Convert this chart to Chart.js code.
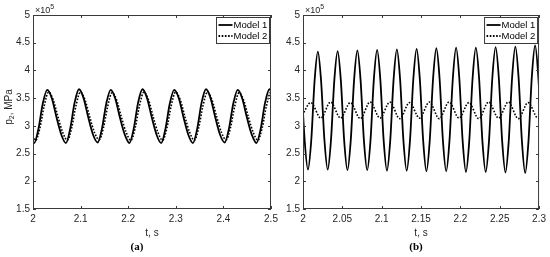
<!DOCTYPE html>
<html>
<head>
<meta charset="utf-8">
<script src="https://cdn.jsdelivr.net/npm/chart.js@4"></script>
<style>
  body { margin: 0; background: #fff; }
  canvas { position: absolute; left: 0; top: 0; }
</style>
</head>
<body>
<canvas id="chartA" width="550" height="257"></canvas>
<canvas id="chartB" width="550" height="257"></canvas>
<script>
// Eixos
var yTicks = [1.5, 2, 2.5, 3, 3.5, 4, 4.5, 5]
var xTicksA = [2, 2.1, 2.2, 2.3, 2.4, 2.5]
var xTicksB = [2, 2.05, 2.1, 2.15, 2.2, 2.25, 2.3]
var seriesNames = ['Model 1', 'Model 2']

// (a) p2 em x10^5
var tA1 = [1.9928, 2.0025, 2.0115, 2.0205, 2.0299, 2.0395, 2.0495, 2.0595, 2.0692, 2.0782, 2.0872, 2.0966, 2.1062, 2.1162, 2.1262,
  2.1359, 2.1449, 2.1539, 2.1633, 2.1729, 2.1829, 2.1929, 2.2026, 2.2116, 2.2206, 2.2300, 2.2396, 2.2496, 2.2596,
  2.2693, 2.2783, 2.2873, 2.2967, 2.3063, 2.3163, 2.3263, 2.3360, 2.3450, 2.3540, 2.3634, 2.3730, 2.3830, 2.3930,
  2.4027, 2.4117, 2.4207, 2.4301, 2.4397, 2.4497, 2.4597, 2.4694, 2.4784, 2.4874, 2.4968, 2.5064]
var pA1 = [2.84,
  2.69, 2.95, 3.40, 3.65, 3.50, 3.15, 2.84,
  2.69, 2.95, 3.41, 3.66, 3.50, 3.15, 2.84,
  2.70, 2.95, 3.40, 3.65, 3.49, 3.14, 2.84,
  2.69, 2.95, 3.41, 3.66, 3.50, 3.15, 2.84,
  2.69, 2.95, 3.40, 3.65, 3.50, 3.15, 2.84,
  2.69, 2.95, 3.41, 3.66, 3.50, 3.15, 2.84,
  2.70, 2.95, 3.40, 3.65, 3.49, 3.14, 2.84,
  2.69, 2.95, 3.41, 3.66, 3.50]
var tA2 = [1.9958, 2.0055, 2.0145, 2.0235, 2.0329, 2.0425, 2.0525, 2.0625, 2.0722, 2.0812, 2.0902, 2.0996, 2.1092, 2.1192, 2.1292,
  2.1389, 2.1479, 2.1569, 2.1663, 2.1759, 2.1859, 2.1959, 2.2056, 2.2146, 2.2236, 2.2330, 2.2426, 2.2526, 2.2626,
  2.2723, 2.2813, 2.2903, 2.2997, 2.3093, 2.3193, 2.3293, 2.3390, 2.3480, 2.3570, 2.3664, 2.3760, 2.3860, 2.3960,
  2.4057, 2.4147, 2.4237, 2.4331, 2.4427, 2.4527, 2.4627, 2.4724, 2.4814, 2.4904, 2.4998, 2.5094]
var pA2 = [2.88,
  2.74, 2.96, 3.36, 3.61, 3.47, 3.16, 2.88,
  2.74, 2.96, 3.36, 3.61, 3.47, 3.16, 2.88,
  2.75, 2.96, 3.35, 3.60, 3.46, 3.15, 2.88,
  2.74, 2.96, 3.36, 3.61, 3.47, 3.16, 2.88,
  2.74, 2.96, 3.36, 3.61, 3.47, 3.16, 2.88,
  2.74, 2.96, 3.36, 3.61, 3.47, 3.16, 2.88,
  2.75, 2.96, 3.35, 3.60, 3.46, 3.15, 2.88,
  2.74, 2.96, 3.36, 3.61, 3.47]

// (b)
var tB1 = [1.9979, 2.0021,
  2.0063, 2.0105, 2.0147, 2.0189, 2.0230, 2.0272,
  2.0314, 2.0356, 2.0398, 2.0440, 2.0481, 2.0523,
  2.0565, 2.0607, 2.0649, 2.0691, 2.0732, 2.0774,
  2.0816, 2.0858, 2.0900, 2.0942, 2.0983, 2.1025,
  2.1067, 2.1109, 2.1151, 2.1193, 2.1234, 2.1276,
  2.1318, 2.1360, 2.1402, 2.1444, 2.1485, 2.1527,
  2.1569, 2.1611, 2.1653, 2.1695, 2.1736, 2.1778,
  2.1820, 2.1862, 2.1904, 2.1946, 2.1987, 2.2029,
  2.2071, 2.2113, 2.2155, 2.2197, 2.2238, 2.2280,
  2.2322, 2.2364, 2.2406, 2.2448, 2.2489, 2.2531,
  2.2573, 2.2615, 2.2657, 2.2699, 2.2740, 2.2782,
  2.2824, 2.2866, 2.2908, 2.2950, 2.2991, 2.3033]
var pB1 = [3.81, 2.74,
  2.21, 2.74, 3.81, 4.34, 3.81, 2.75,
  2.21, 2.75, 3.82, 4.35, 3.82, 2.74,
  2.20, 2.74, 3.82, 4.36, 3.82, 2.74,
  2.20, 2.74, 3.83, 4.37, 3.83, 2.74,
  2.19, 2.74, 3.83, 4.38, 3.84, 2.74,
  2.19, 2.74, 3.84, 4.39, 3.84, 2.74,
  2.18, 2.74, 3.85, 4.40, 3.85, 2.74,
  2.18, 2.74, 3.85, 4.41, 3.85, 2.73,
  2.17, 2.73, 3.85, 4.41, 3.86, 2.73,
  2.17, 2.73, 3.86, 4.42, 3.86, 2.73,
  2.16, 2.73, 3.86, 4.43, 3.87, 2.73,
  2.15, 2.73, 3.88, 4.45, 3.88, 2.73]
var tB2 = [1.9974, 2.0100, 2.0226, 2.0351, 2.0477, 2.0602, 2.0728, 2.0853, 2.0979, 2.1104, 2.1230, 2.1355, 2.1481,
  2.1606, 2.1732, 2.1857, 2.1983, 2.2108, 2.2234, 2.2359, 2.2485, 2.2610, 2.2736, 2.2861, 2.2987, 2.3112]
var pB2 = [3.14, 3.42, 3.14, 3.43, 3.14, 3.42, 3.13, 3.43, 3.14, 3.43, 3.13, 3.42, 3.14,
  3.43, 3.13, 3.43, 3.14, 3.42, 3.13, 3.43, 3.14, 3.43, 3.13, 3.42, 3.14, 3.43]

var ink = '#262626'
var sans = "'Liberation Sans', Arial, sans-serif"

function pts(t, p) {
  return t.map((v, i) => ({ x: v, y: p[i] }))
}

function decor(letter, yTitle) {
  return {
    id: 'decor' + letter,
    afterDatasetsDraw(chart) {
      var ctx = chart.ctx, a = chart.chartArea
      var xs = chart.scales.x, ys = chart.scales.y
      ctx.save()
      ctx.setLineDash([])
      ctx.strokeStyle = '#3a3a3a'
      ctx.lineWidth = 1

      // ticks para dentro
      ctx.beginPath()
      xs.ticks.forEach((t) => {
        var px = Math.round(xs.getPixelForValue(t.value)) + 0.5
        ctx.moveTo(px, a.bottom); ctx.lineTo(px, a.bottom - 3)
        ctx.moveTo(px, a.top); ctx.lineTo(px, a.top + 3)
      })
      ys.ticks.forEach((t) => {
        var py = Math.round(ys.getPixelForValue(t.value)) + 0.5
        ctx.moveTo(a.left, py); ctx.lineTo(a.left + 3, py)
        ctx.moveTo(a.right, py); ctx.lineTo(a.right - 3, py)
      })
      ctx.stroke()
      ctx.strokeRect(a.left + 0.5, a.top + 0.5, a.right - a.left - 1, a.bottom - a.top - 1)

      // legenda
      var bx = a.right - 54.5, by = a.top + 2.5
      ctx.fillStyle = '#fff'
      ctx.fillRect(bx, by, 53, 26)
      ctx.strokeRect(bx, by, 53, 26)
      ctx.strokeStyle = '#000'
      ctx.lineWidth = 1.8
      ctx.beginPath(); ctx.moveTo(bx + 2, by + 7.5); ctx.lineTo(bx + 16, by + 7.5); ctx.stroke()
      ctx.setLineDash([1.6, 1.6])
      ctx.beginPath(); ctx.moveTo(bx + 2, by + 18.5); ctx.lineTo(bx + 16, by + 18.5); ctx.stroke()
      ctx.setLineDash([])
      ctx.fillStyle = '#000'
      ctx.font = '9.5px ' + sans
      ctx.textAlign = 'left'
      ctx.textBaseline = 'middle'
      ctx.fillText(seriesNames[0], bx + 17, by + 7.5)
      ctx.fillText(seriesNames[1], bx + 17, by + 18.5)

      // x10^5
      ctx.fillStyle = ink
      ctx.textBaseline = 'alphabetic'
      ctx.font = '9px ' + sans
      ctx.fillText('\u00d710', a.left + 2, a.top - 2)
      var w = ctx.measureText('\u00d710').width
      ctx.font = '7px ' + sans
      ctx.fillText('5', a.left + 2 + w, a.top - 6)

      // titulos
      var cx = (a.left + a.right) / 2
      ctx.textAlign = 'center'
      ctx.textBaseline = 'middle'
      ctx.font = '10px ' + sans
      ctx.fillText('t, s', cx, 233)
      ctx.font = 'bold 11px "Liberation Serif", "Times New Roman", serif'
      ctx.fillStyle = '#000'
      ctx.fillText('(' + letter + ')', letter == 'a' ? 137 : 416, 247)

      if (yTitle) {
        ctx.save()
        ctx.translate(9, 107)
        ctx.rotate(-Math.PI / 2)
        ctx.fillStyle = ink
        ctx.textAlign = 'left'
        ctx.font = '10px ' + sans
        var w1 = ctx.measureText('p').width
        ctx.font = '7px ' + sans
        var w2 = ctx.measureText('2').width
        ctx.font = '10px ' + sans
        var w3 = ctx.measureText(', MPa').width
        var x0 = -(w1 + w2 + w3) / 2
        ctx.fillText('p', x0, 0)
        ctx.font = '7px ' + sans
        ctx.fillText('2', x0 + w1, 3)
        ctx.font = '10px ' + sans
        ctx.fillText(', MPa', x0 + w1 + w2, 0)
        ctx.restore()
      }
      ctx.restore()
    }
  }
}

function makeChart(id, letter, t1, p1, t2, p2, xTicks, xmax, padLeft, padRight) {
  return new Chart(document.getElementById(id), {
    type: 'line',
    data: {
      datasets: [
        {
          label: seriesNames[0],
          data: pts(t1, p1),
          borderColor: '#000',
          borderWidth: 1.8,
          clip: 0
        },
        {
          label: seriesNames[1],
          data: pts(t2, p2),
          borderColor: '#000',
          borderWidth: 1.6,
          borderDash: [1.6, 1.6],
          clip: 0
        }
      ]
    },
    options: {
      responsive: false,
      animation: false,
      layout: {
        padding: { left: padLeft, right: padRight, top: 15, bottom: 0 }
      },
      elements: {
        point: { radius: 0 },
        line: { cubicInterpolationMode: 'monotone', fill: false }
      },
      plugins: {
        legend: { display: false },
        tooltip: { enabled: false }
      },
      scales: {
        x: {
          type: 'linear',
          min: 2,
          max: xmax,
          afterBuildTicks: (s) => { s.ticks = xTicks.map((v) => ({ value: v })) },
          afterFit: (s) => { s.height = 48 },
          grid: { display: false, drawTicks: false },
          border: { display: false },
          ticks: {
            autoSkip: false,
            maxRotation: 0,
            padding: 4,
            color: ink,
            font: { family: sans, size: 10 },
            callback: (v) => String(v)
          }
        },
        y: {
          min: 1.5,
          max: 5,
          afterBuildTicks: (s) => { s.ticks = yTicks.map((v) => ({ value: v })) },
          afterFit: (s) => { s.width = 33 },
          grid: { display: false, drawTicks: false },
          border: { display: false },
          ticks: {
            padding: 3,
            color: ink,
            font: { family: sans, size: 10 },
            callback: (v) => String(v)
          }
        }
      }
    },
    plugins: [decor(letter, letter == 'a')]
  })
}

var chartA = makeChart('chartA', 'a', tA1, pA1, tA2, pA2, xTicksA, 2.5, 0, 279)
var chartB = makeChart('chartB', 'b', tB1, pB1, tB2, pB2, xTicksB, 2.3, 270, 9)
</script>
</body>
</html>
